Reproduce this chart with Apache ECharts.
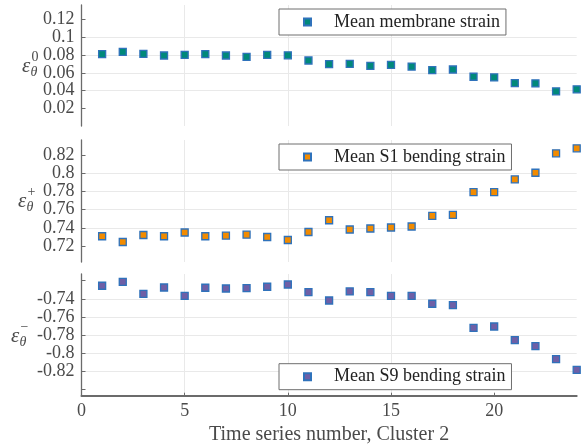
<!DOCTYPE html>
<html>
<head>
<meta charset="utf-8">
<script src="https://cdn.jsdelivr.net/npm/echarts@6/dist/echarts.min.js"></script>
<style>
html,body{margin:0;padding:0;background:#fff;}
#chart{width:585px;height:448px;}
</style>
</head>
<body>
<div id="chart"></div>
<script>
// ---- data ----
const timeSeries = [1,2,3,4,5,6,7,8,9,10,11,12,13,14,15,16,17,18,19,20,21,22,23,24];
const membraneStrain = [0.0808,0.0833,0.0810,0.0793,0.0800,0.0808,0.0793,0.0778,0.0800,0.0795,0.0737,0.0696,0.0700,0.0678,0.0689,0.0670,0.0630,0.0637,0.0556,0.0549,0.0486,0.0482,0.0393,0.0416];
const s1BendingStrain = [0.7307,0.7244,0.7321,0.7307,0.7348,0.7307,0.7314,0.7325,0.7299,0.7266,0.7354,0.7483,0.7381,0.7392,0.7403,0.7414,0.7531,0.7542,0.7792,0.7792,0.7932,0.8005,0.8219,0.8274];
const s9BendingStrain = [-0.7256,-0.7212,-0.7345,-0.7275,-0.7367,-0.7278,-0.7286,-0.7282,-0.7267,-0.7242,-0.7326,-0.7419,-0.7319,-0.7326,-0.7367,-0.7367,-0.7455,-0.7470,-0.7721,-0.7706,-0.7857,-0.7924,-0.8067,-0.8186];
const seriesNames = ['Mean membrane strain','Mean S1 bending strain','Mean S9 bending strain'];
const xTicks = [0,5,10,15,20];
const topTicks = [0.02,0.04,0.06,0.08,0.1,0.12];
const midTicks = [0.72,0.74,0.76,0.78,0.8,0.82];
const botTicks = [-0.84,-0.82,-0.8,-0.78,-0.76,-0.74,-0.72];
const botLabels = [-0.82,-0.8,-0.78,-0.76,-0.74];
const xTitle = 'Time series number, Cluster 2';

const serif = 'Liberation Serif, Times New Roman, serif';
const tickColor = '#4a4a4a';
const gridColor = '#e9e9e9';
const axisColor = '#6b6b6b';
const fills = ['#00897a','#f28b00','#6e5fa6'];
const edge = '#2f72bb';

const L = 81.5, R = 8.3;
const grids = [
  {left:L, right:R, top:5, height:121},
  {left:L, right:R, top:140, height:122},
  {left:L, right:R, top:274, height:121.7}
];
const yRanges = [[0.0007,0.1356],[0.7024,0.8365],[-0.8471,-0.7126]];
const yTickSets = [topTicks, midTicks, botTicks];
const yLabelSets = [topTicks, midTicks, botLabels];
const dataSets = [membraneStrain, s1BendingStrain, s9BendingStrain];

const xAxes = grids.map((g,i)=>({
  type:'value', gridIndex:i, min:0, max:24,
  axisLine:{show:i===2, onZero:false, lineStyle:{color:axisColor, width:2}},
  axisTick:{show:i===2, inside:true, length:3, customValues:xTicks, lineStyle:{color:axisColor}},
  axisLabel:{show:i===2, customValues:xTicks, margin:7, fontFamily:serif, fontSize:18, color:tickColor},
  splitLine:{show:true, showMinLine:false, showMaxLine:false, lineStyle:{color:gridColor, width:1}},
  name: i===2 ? xTitle : '',
  nameLocation:'middle', nameGap:29,
  nameTextStyle:{fontFamily:serif, fontSize:20, color:tickColor}
}));

const yAxes = grids.map((g,i)=>({
  type:'value', gridIndex:i, min:yRanges[i][0], max:yRanges[i][1],
  axisLine:{show:true, lineStyle:{color:axisColor, width:1.3}},
  axisTick:{show:true, inside:true, length:4, customValues:yTickSets[i], lineStyle:{color:axisColor}},
  axisLabel:{customValues:yLabelSets[i], margin:7, fontFamily:serif, fontSize:18, color:tickColor},
  splitLine:{show:true, showMinLine:false, showMaxLine:false, lineStyle:{color:gridColor, width:1}}
}));

const series = dataSets.map((arr,i)=>({
  name: seriesNames[i], type:'scatter', xAxisIndex:i, yAxisIndex:i,
  symbol:'rect', symbolSize:7,
  itemStyle:{color:fills[i], borderColor:edge, borderWidth:1.3, opacity:1},
  data: timeSeries.map((x,j)=>[x, arr[j]])
}));

const legendTops = [9,144,363.7];
const legends = seriesNames.map((n,i)=>({
  data:[n], left:279, top:legendTops[i], orient:'horizontal',
  padding:[4,6,4,24], itemWidth:7, itemHeight:7, itemGap:0,
  borderColor:'#6e6e6e', borderWidth:1, backgroundColor:'#fff', borderRadius:0,
  selectedMode:false,
  textStyle:{fontFamily:serif, fontSize:18, color:'#222', padding:[0,0,0,18], lineHeight:18}
}));

// y-axis titles (epsilon with sub theta and superscripts)
function yTitle(x, cy, sup, supDx){
  return {
    type:'group', children:[
      {type:'text', x:x, y:cy, style:{text:'ε', font:'italic 21px '+serif, fill:tickColor, verticalAlign:'middle', align:'left'}},
      {type:'text', x:x+8.5, y:cy+5.5, style:{text:'θ', font:'italic 14px '+serif, fill:tickColor, verticalAlign:'middle', align:'left'}},
      {type:'text', x:x+supDx, y:cy-9, style:{text:sup, font:'14px '+serif, fill:tickColor, verticalAlign:'middle', align:'left'}}
    ]
  };
}

const option = {
  animation:false,
  backgroundColor:'#fff',
  grid: grids,
  xAxis: xAxes,
  yAxis: yAxes,
  legend: legends,
  series: series,
  graphic: [
    yTitle(22, 66.5, '0', 9.5),
    yTitle(18, 201.5, '+', 9.5),
    yTitle(11, 336.5, '\u2212', 9.5)
  ]
};
const chart = echarts.init(document.getElementById('chart'), null, {renderer:'canvas'});
chart.setOption(option);
</script>
</body>
</html>
